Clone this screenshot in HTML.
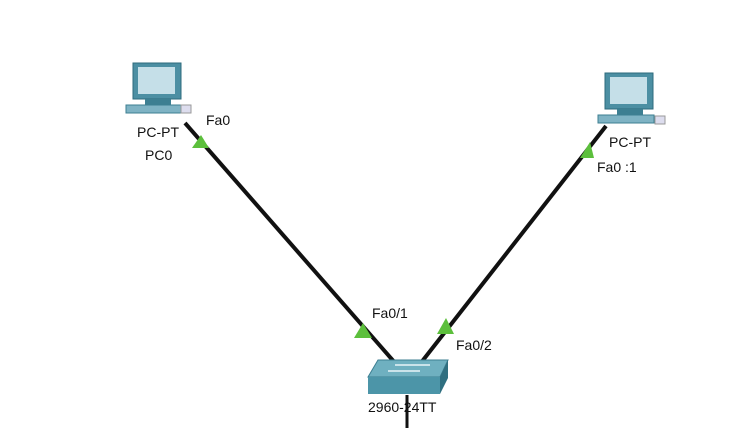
<!DOCTYPE html>
<html><head><style>
body{margin:0;background:#fff;width:747px;height:428px;overflow:hidden}
text{font-family:"Liberation Sans",sans-serif;font-size:14px;fill:#111}
</style></head><body>
<svg width="747" height="428" viewBox="0 0 747 428" xmlns="http://www.w3.org/2000/svg">
<line x1="185" y1="123" x2="396" y2="364" stroke="#111" stroke-width="4"/>
<line x1="606" y1="126" x2="420" y2="364" stroke="#111" stroke-width="4"/>
<line x1="407" y1="395" x2="407" y2="428" stroke="#111" stroke-width="3"/>
<!-- PC0 -->
<g>
<rect x="133" y="63" width="48" height="36" fill="#4c8fa3" stroke="#2e6b7d"/>
<rect x="138" y="67" width="37" height="27" fill="#c5dfe8"/>
<rect x="145" y="99" width="26" height="6" fill="#3d7f92"/>
<rect x="126" y="105" width="56" height="8" fill="#7fb3c4" stroke="#3d7f92"/>
<rect x="181" y="105" width="10" height="8" fill="#dde" stroke="#999"/>
</g>
<!-- PC1 -->
<g>
<rect x="605" y="73" width="48" height="36" fill="#4c8fa3" stroke="#2e6b7d"/>
<rect x="610" y="77" width="37" height="27" fill="#c5dfe8"/>
<rect x="617" y="109" width="26" height="6" fill="#3d7f92"/>
<rect x="598" y="115" width="56" height="8" fill="#7fb3c4" stroke="#3d7f92"/>
<rect x="655" y="116" width="10" height="8" fill="#dde" stroke="#999"/>
</g>
<!-- switch -->
<polygon points="378,360 448,360 440,377 368,377" fill="#6fb0c0" stroke="#3d7f92"/>
<polygon points="368,377 440,377 440,394 368,394" fill="#4c95a8"/>
<polygon points="440,377 448,360 448,378 440,394" fill="#2f6f80"/>
<line x1="395" y1="365" x2="430" y2="365" stroke="#e8f4f8" stroke-width="1.5"/>
<line x1="388" y1="371" x2="420" y2="371" stroke="#e8f4f8" stroke-width="1.5"/>
<!-- triangles -->
<polygon points="192,148 209,148 201,135" fill="#5cbf3c"/>
<polygon points="354,338 372,338 363,323" fill="#5cbf3c"/>
<polygon points="437,334 454,334 446,318" fill="#5cbf3c"/>
<polygon points="580,158 594,158 590,142" fill="#5cbf3c"/>
<text x="206" y="125">Fa0</text>
<text x="137" y="137">PC-PT</text>
<text x="145" y="160">PC0</text>
<text x="609" y="147">PC-PT</text>
<text x="597" y="172">Fa0 :1</text>
<text x="372" y="318">Fa0/1</text>
<text x="456" y="350">Fa0/2</text>
<text x="368" y="412">2960-24TT</text>
</svg>
</body></html>
